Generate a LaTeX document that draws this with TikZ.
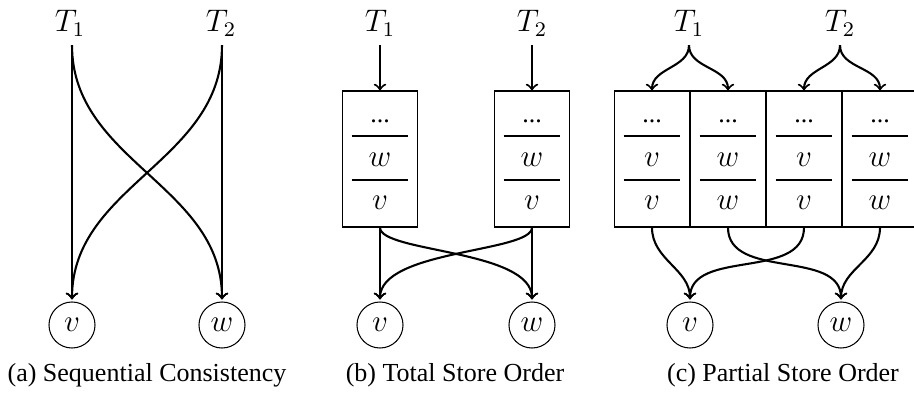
\documentclass[tikz,border=0pt]{standalone}
\usepackage{fontspec}
\setmainfont{Liberation Serif}
\usetikzlibrary{calc}

% three stacked cells inside a store buffer: dots, middle entry, oldest entry
\newcommand\bufcells[3]{%
  \draw[sep] ($(#1.west)+(10,-23)$) -- ($(#1.east)+(-10,-23)$);
  \draw[sep] ($(#1.west)+(10,21)$) -- ($(#1.east)+(-10,21)$);
  \node[anchor=base] (#1-top) at ($(#1.center)+(0,-37)$) {...};
  \node[lbl] (#1-mid) at ($(#1.center)+(0,1)$) {$#2$};
  \node[lbl] (#1-low) at ($(#1.center)+(0,44)$) {$#3$};}

\begin{document}
\begin{tikzpicture}[x=0.3846pt,y=-0.3846pt,
  lbl/.style={font=\large},
  mem/.style={lbl,circle,draw,line width=0.4pt,minimum size=17.7pt,inner sep=0pt},
  buf/.style={draw,line width=0.4pt,minimum width=29.2pt,minimum height=52.3pt,inner sep=0pt},
  flow/.style={->,line width=0.8pt},
  tomem/.style={flow,shorten >=0.8pt},
  sep/.style={line width=0.5pt},
  captiontext/.style={font=\normalsize}]
\useasboundingbox (0,0) rectangle (914,401);
\clip (0,0) rectangle (914,401);

% ---------- (a) sequential consistency ----------
\node[lbl] (a-t1) at (70,23) {$T_1$};
\node[lbl] (a-t2) at (221,23) {$T_2$};
\node[mem] (a-v) at (72,325) {$v$};
\node[mem] (a-w) at (222,325) {$w$};
\draw[tomem] (a-t1.south -| a-v.north) -- (a-v.north);
\draw[tomem] (a-t1.south -| a-v.north) to[out=-90,in=90] (a-w.north);
\draw[tomem] (a-t2.south -| a-w.north) -- (a-w.north);
\draw[tomem] (a-t2.south -| a-w.north) to[out=-90,in=90] (a-v.north);
\node[captiontext] (cap-a) at (147,375) {(a) Sequential Consistency};

% ---------- (b) total store order ----------
\node[lbl] (b-t1) at (380,23) {$T_1$};
\node[lbl] (b-t2) at (532,23) {$T_2$};
\node[buf] (b-b1) at (380,159) {};
\node[buf] (b-b2) at (532,159) {};
\bufcells{b-b1}{w}{v}
\bufcells{b-b2}{w}{v}
\node[mem] (b-v) at (380,325) {$v$};
\node[mem] (b-w) at (532,325) {$w$};
\draw[flow] (b-t1.south -| b-b1.north) -- (b-b1.north);
\draw[flow] (b-t2.south -| b-b2.north) -- (b-b2.north);
\draw[tomem] (b-b1.south) -- (b-v.north);
\draw[tomem] (b-b1.south) .. controls +(0,25) and +(0,-52) .. (b-w.north);
\draw[tomem] (b-b2.south) -- (b-w.north);
\draw[tomem] (b-b2.south) .. controls +(0,25) and +(0,-52) .. (b-v.north);
\node[captiontext] (cap-b) at (455,375) {(b) Total Store Order};

% ---------- (c) partial store order ----------
\node[lbl] (c-t1) at (689,23) {$T_1$};
\node[lbl] (c-t2) at (840,23) {$T_2$};
\node[buf] (c-b1) at (652,159) {};
\node[buf] (c-b2) at (728,159) {};
\node[buf] (c-b3) at (804,159) {};
\node[buf] (c-b4) at (880,159) {};
\bufcells{c-b1}{v}{v}
\bufcells{c-b2}{w}{w}
\bufcells{c-b3}{v}{v}
\bufcells{c-b4}{w}{w}
\node[mem] (c-v) at (690,325) {$v$};
\node[mem] (c-w) at (841,325) {$w$};
\draw[flow] (c-t1.south) to[out=-90,in=90] (c-b1.north);
\draw[flow] (c-t1.south) to[out=-90,in=90] (c-b2.north);
\draw[flow] (c-t2.south) to[out=-90,in=90] (c-b3.north);
\draw[flow] (c-t2.south) to[out=-90,in=90] (c-b4.north);
\draw[tomem] (c-b1.south) to[out=-90,in=90] (c-v.north);
\draw[tomem] (c-b2.south) to[out=-90,in=90] (c-w.north);
\draw[tomem] (c-b3.south) to[out=-90,in=90] (c-v.north);
\draw[tomem] (c-b4.south) to[out=-90,in=90] (c-w.north);
\node[captiontext] (cap-c) at (783,375) {(c) Partial Store Order};
\end{tikzpicture}
\end{document}
